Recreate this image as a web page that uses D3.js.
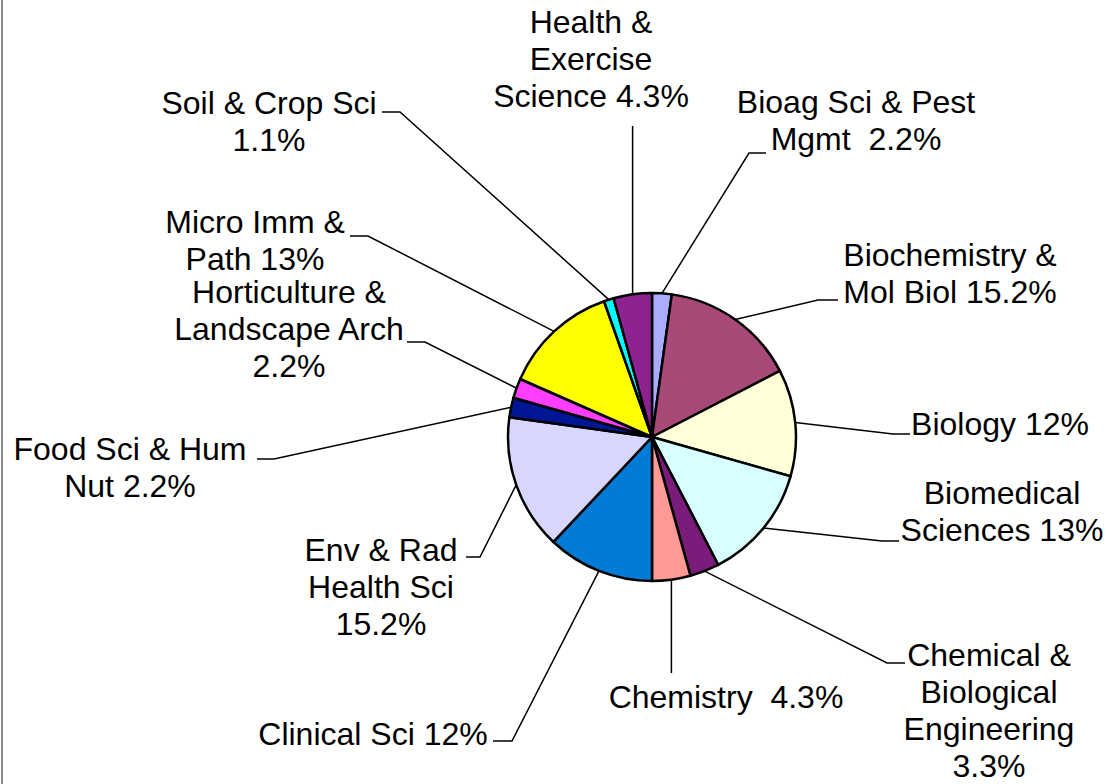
<!DOCTYPE html>
<html>
<head>
<meta charset="utf-8">
<script src="https://cdn.jsdelivr.net/npm/d3@7"></script>
<style>
  html, body { margin: 0; padding: 0; background: #fff; }
  svg { display: block; }
  text { font-family: "Liberation Sans", Arial, sans-serif; fill: #000; white-space: pre; }
</style>
</head>
<body>
<svg id="chart" width="1106" height="784"></svg>
<script>
// ---- data ----
const categories = [
  "Bioag Sci & Pest Mgmt", "Biochemistry & Mol Biol", "Biology", "Biomedical Sciences",
  "Chemical & Biological Engineering", "Chemistry", "Clinical Sci", "Env & Rad Health Sci",
  "Food Sci & Hum Nut", "Horticulture & Landscape Arch", "Micro Imm & Path",
  "Soil & Crop Sci", "Health & Exercise Science"
];
const values = [2.2, 15.2, 12, 13, 3.3, 4.3, 12, 15.2, 2.2, 2.2, 13, 1.1, 4.3];
const labelLines = [
  ["Bioag Sci & Pest", "Mgmt  2.2%"],
  ["Biochemistry &", "Mol Biol 15.2%"],
  ["Biology 12%"],
  ["Biomedical", "Sciences 13%"],
  ["Chemical &", "Biological", "Engineering", "3.3%"],
  ["Chemistry  4.3%"],
  ["Clinical Sci 12%"],
  ["Env & Rad", "Health Sci", "15.2%"],
  ["Food Sci & Hum", "Nut 2.2%"],
  ["Horticulture &", "Landscape Arch", "2.2%"],
  ["Micro Imm &", "Path 13%"],
  ["Soil & Crop Sci", "1.1%"],
  ["Health &", "Exercise", "Science 4.3%"]
];
const colors = [
  "#A9ACFF", "#A84A78", "#FFFFD8", "#D8FFFF", "#7B1C7B", "#FF9A94", "#007BD6",
  "#D6D6FF", "#001694", "#FF3DFF", "#FFFF00", "#00FFFF", "#8E2290"
];

// ---- layout (label placement) ----
const labelLayout = [
  { tx: 856, ty: 113, elbow: [749, 153], end: [766, 153] },
  { tx: 950, ty: 266, elbow: [818, 300], end: [838, 300] },
  { tx: 1000, ty: 435, elbow: [893, 434], end: [910, 434] },
  { tx: 1002, ty: 504, elbow: [882, 541], end: [899, 541] },
  { tx: 989, ty: 666, elbow: [887, 663], end: [905, 663] },
  { tx: 726, ty: 708, elbow: null, end: [null, 673] },
  { tx: 373, ty: 745, elbow: [512, 741], end: [493, 741] },
  { tx: 381, ty: 561, elbow: [480, 557], end: [466, 557] },
  { tx: 130, ty: 460, elbow: [274, 459], end: [257, 459] },
  { tx: 289, ty: 303, elbow: [425, 342], end: [407, 342] },
  { tx: 255, ty: 233, elbow: [368, 236], end: [350, 236] },
  { tx: 269, ty: 114, elbow: [400, 112], end: [382, 112] },
  { tx: 591, ty: 33, elbow: null, end: [null, 126] }
];

const W = 1106, H = 784;
const cx = 652, cy = 437, R = 144;
const fontSize = 32, lineH = 37;

const svg = d3.select("#chart");
svg.append("rect").attr("width", W).attr("height", H).attr("fill", "#fff");
svg.append("line").attr("x1", 2).attr("x2", 2).attr("y1", 0).attr("y2", H)
  .attr("stroke", "#888").attr("stroke-width", 2);

const pie = d3.pie().sort(null).value(d => d);
const arcs = pie(values);
const arc = d3.arc().innerRadius(0).outerRadius(R);

const g = svg.append("g").attr("transform", `translate(${cx},${cy})`);
g.selectAll("path.slice").data(arcs).join("path")
  .attr("class", "slice")
  .attr("d", arc)
  .attr("fill", (d, i) => colors[i])
  .attr("stroke", "#000")
  .attr("stroke-width", 2.5)
  .attr("stroke-linejoin", "round");

// leader lines
const leaders = svg.append("g");
arcs.forEach((d, i) => {
  const a = (d.startAngle + d.endAngle) / 2;
  const px = cx + R * Math.sin(a), py = cy - R * Math.cos(a);
  const L = labelLayout[i];
  let pts;
  if (L.elbow) {
    pts = [[px, py], L.elbow, L.end];
  } else {
    pts = [[px, py], [px, L.end[1]]];
  }
  leaders.append("path")
    .attr("d", d3.line()(pts))
    .attr("fill", "none")
    .attr("stroke", "#000")
    .attr("stroke-width", 1.5);
});

// labels
const labels = svg.append("g");
labelLines.forEach((lines, i) => {
  const L = labelLayout[i];
  const t = labels.append("text")
    .attr("text-anchor", "middle")
    .attr("font-size", fontSize);
  lines.forEach((ln, j) => {
    t.append("tspan").attr("x", L.tx).attr("y", L.ty + j * lineH).text(ln);
  });
});
</script>
</body>
</html>
